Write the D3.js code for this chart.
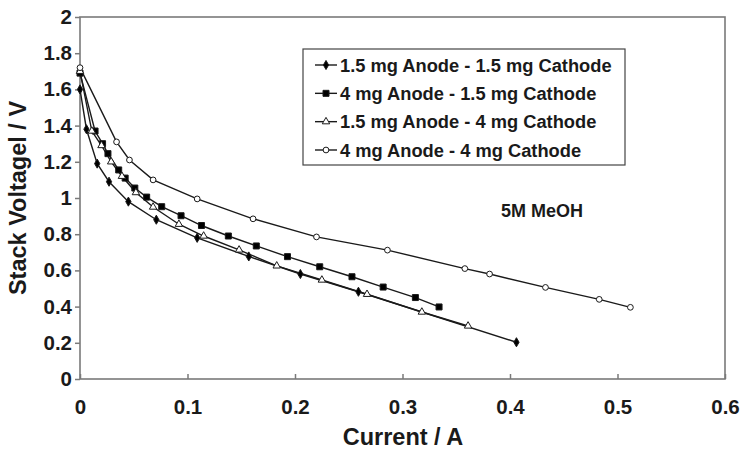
<!DOCTYPE html>
<html>
<head>
<meta charset="utf-8">
<script src="https://cdn.jsdelivr.net/npm/d3@7"></script>
<style>
  html, body { margin: 0; padding: 0; background: #fff; }
  svg { display: block; font-family: "Liberation Sans", Arial, sans-serif; font-weight: bold; }
</style>
</head>
<body>
<svg id="chart" width="740" height="451"></svg>
<script>
// ---- data ----
const seriesNames = [
  "1.5 mg Anode - 1.5 mg Cathode",
  "4 mg Anode - 1.5 mg Cathode",
  "1.5 mg Anode - 4 mg Cathode",
  "4 mg Anode - 4 mg Cathode"
];
const current1 = [0, 0.006, 0.016, 0.027, 0.045, 0.071, 0.109, 0.157, 0.205, 0.259, 0.406];
const voltage1 = [1.60, 1.38, 1.19, 1.09, 0.98, 0.88, 0.78, 0.677, 0.58, 0.482, 0.203];
const current2 = [0, 0.014, 0.021, 0.026, 0.036, 0.042, 0.051, 0.062, 0.076, 0.094, 0.113, 0.138, 0.164, 0.193, 0.223, 0.253, 0.282, 0.312, 0.334];
const voltage2 = [1.69, 1.37, 1.30, 1.245, 1.155, 1.11, 1.055, 1.005, 0.952, 0.902, 0.848, 0.79, 0.735, 0.676, 0.62, 0.565, 0.508, 0.45, 0.398];
const current3 = [0, 0.011, 0.020, 0.029, 0.039, 0.052, 0.068, 0.092, 0.115, 0.148, 0.183, 0.225, 0.267, 0.318, 0.361];
const voltage3 = [1.70, 1.37, 1.29, 1.20, 1.12, 1.03, 0.95, 0.855, 0.79, 0.713, 0.625, 0.547, 0.468, 0.37, 0.293];
const current4 = [0, 0.034, 0.046, 0.068, 0.109, 0.161, 0.22, 0.286, 0.358, 0.381, 0.433, 0.483, 0.512];
const voltage4 = [1.72, 1.31, 1.21, 1.10, 0.995, 0.885, 0.785, 0.712, 0.61, 0.58, 0.506, 0.44, 0.396];
const xTicks = [0, 0.1, 0.2, 0.3, 0.4, 0.5, 0.6];
const xTickLabels = ["0", "0.1", "0.2", "0.3", "0.4", "0.5", "0.6"];
const yTicks = [0, 0.2, 0.4, 0.6, 0.8, 1, 1.2, 1.4, 1.6, 1.8, 2];
const yTickLabels = ["0", "0.2", "0.4", "0.6", "0.8", "1", "1.2", "1.4", "1.6", "1.8", "2"];
const xTitle = "Current / A";
const yTitle = "Stack Voltagel / V";
const annotation = "5M MeOH";

// ---- build ----
const currents = [current1, current2, current3, current4];
const voltages = [voltage1, voltage2, voltage3, voltage4];
const markerStyles = [
  { type: d3.symbolDiamond, size: 24, fill: "#000" },
  { type: d3.symbolSquare, size: 36, fill: "#000" },
  { type: d3.symbolTriangle, size: 24, fill: "#fff" },
  { type: d3.symbolCircle, size: 26, fill: "#fff" }
];
const series = seriesNames.map((name, i) => ({
  name,
  style: markerStyles[i],
  points: currents[i].map((c, j) => ({ x: c, y: voltages[i][j] }))
}));

const svg = d3.select("#chart");
const mLeft = 80, mRight = 725, mTop = 17, mBottom = 379;
const x = d3.scaleLinear().domain([0, 0.6]).range([mLeft, mRight]);
const y = d3.scaleLinear().domain([0, 2]).range([mBottom, mTop]);
const axisColor = "#7a7a7a";
const inkColor = "#1a1a1a";

// frame
svg.append("rect")
  .attr("x", mLeft).attr("y", mTop)
  .attr("width", mRight - mLeft).attr("height", mBottom - mTop)
  .attr("fill", "none").attr("stroke", axisColor).attr("stroke-width", 1.6);

// y axis
const yAxis = svg.append("g")
  .attr("transform", `translate(${mLeft},0)`)
  .call(d3.axisLeft(y).tickValues(yTicks)
    .tickFormat((d, i) => yTickLabels[i]).tickSize(5).tickSizeOuter(0).tickPadding(3));
yAxis.select(".domain").remove();
yAxis.selectAll(".tick line").attr("stroke", axisColor).attr("stroke-width", 1.5);
yAxis.selectAll(".tick text").attr("font-size", 20.5).attr("font-weight", "bold")
  .attr("fill", inkColor).attr("font-family", "Liberation Sans, Arial, sans-serif");

// x axis (ticks inward)
const xAxis = svg.append("g")
  .attr("transform", `translate(0,${mBottom})`)
  .call(d3.axisBottom(x).tickValues(xTicks)
    .tickFormat((d, i) => xTickLabels[i]).tickSize(-5).tickSizeOuter(0).tickPadding(20));
xAxis.select(".domain").remove();
xAxis.selectAll(".tick line").attr("stroke", axisColor).attr("stroke-width", 1.5);
xAxis.selectAll(".tick text").attr("font-size", 20.5).attr("font-weight", "bold")
  .attr("fill", inkColor).attr("font-family", "Liberation Sans, Arial, sans-serif");

// axis titles
svg.append("text")
  .attr("x", 403).attr("y", 445)
  .attr("text-anchor", "middle").attr("font-size", 23.5).attr("fill", inkColor)
  .text(xTitle);
svg.append("text")
  .attr("transform", "translate(26,198) rotate(-90)")
  .attr("text-anchor", "middle").attr("font-size", 23.5).attr("fill", inkColor)
  .text(yTitle);

// lines
const line = d3.line().x(d => x(d.x)).y(d => y(d.y));
const plot = svg.append("g");
series.forEach(s => {
  plot.append("path").datum(s.points)
    .attr("d", line).attr("fill", "none")
    .attr("stroke", inkColor).attr("stroke-width", 1.4);
});
series.forEach(s => {
  plot.selectAll(null).data(s.points).enter().append("path")
    .attr("transform", d => `translate(${x(d.x)},${y(d.y)})`)
    .attr("d", d3.symbol().type(s.style.type).size(s.style.size))
    .attr("fill", s.style.fill).attr("stroke", inkColor).attr("stroke-width", 1);
});

// annotation
svg.append("text")
  .attr("x", 501).attr("y", 217)
  .attr("font-size", 18).attr("fill", inkColor)
  .text(annotation);

// legend
const legend = svg.append("g");
legend.append("rect")
  .attr("x", 303).attr("y", 49).attr("width", 322).attr("height", 116)
  .attr("fill", "#fff").attr("stroke", "#444").attr("stroke-width", 1.2);
const rowY = d3.scalePoint().domain(seriesNames).range([65, 150]);
series.forEach(s => {
  const yy = rowY(s.name);
  legend.append("line")
    .attr("x1", 315).attr("x2", 337).attr("y1", yy).attr("y2", yy)
    .attr("stroke", inkColor).attr("stroke-width", 1.4);
  legend.append("path")
    .attr("transform", `translate(326,${yy})`)
    .attr("d", d3.symbol().type(s.style.type).size(s.style.size))
    .attr("fill", s.style.fill).attr("stroke", inkColor).attr("stroke-width", 1);
  legend.append("text")
    .attr("x", 340).attr("y", yy).attr("dy", "0.36em")
    .attr("font-size", 18.3).attr("fill", inkColor)
    .text(s.name);
});
</script>
</body>
</html>
